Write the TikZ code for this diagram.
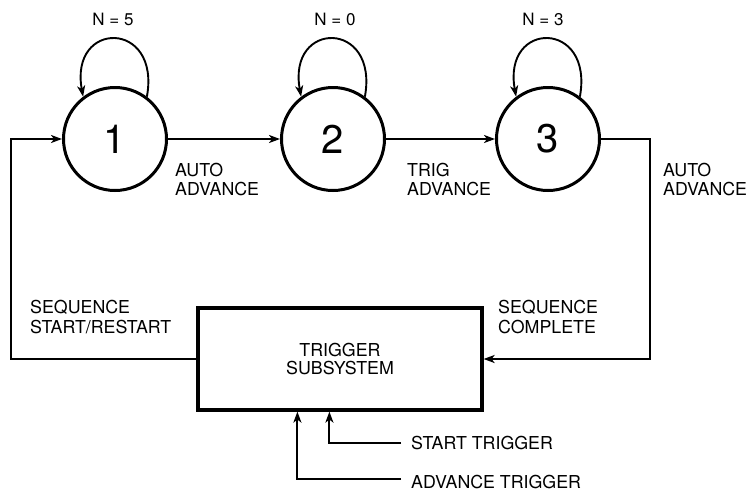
\documentclass[tikz,border=0pt]{standalone}
\usepackage{fontspec}
\setmainfont{TeX Gyre Heros}
\usetikzlibrary{arrows.meta,calc}
\begin{document}
\begin{tikzpicture}[x=1pt,y=-1pt,
  state/.style={circle,draw,line width=3pt,minimum size=103pt,inner sep=0pt,
    font=\fontsize{40}{40}\selectfont},
  conn/.style={line width=1.9pt,-{Stealth[length=11pt,width=8pt,inset=3pt]}},
  lbl/.style={inner sep=0pt,align=left,anchor=north west,
    font=\fontsize{17.8}{19}\selectfont},
  lbl2/.style={lbl,font=\fontsize{17.8}{20}\selectfont},
  nlbl/.style={inner sep=0pt,font=\fontsize{17}{17}\selectfont},
  sysbox/.style={draw,line width=3.2pt,minimum width=284pt,minimum height=102pt,
    inner sep=0pt,align=center,font=\fontsize{17.8}{17.5}\selectfont}]
\useasboundingbox (0,0) rectangle (753,491);

\node[state] (c1) at (115,139) {1};
\node[state] (c2) at (333,139) {2};
\node[state] (c3) at (548,139) {3};

\node[sysbox] (box) at (340,359) {TRIGGER\\SUBSYSTEM};

% self loops
\draw[conn] (c1.53) .. controls +(14,-77) and +(-14,-77) .. (c1.127);
\draw[conn] (c2.53) .. controls +(14,-77) and +(-14,-77) .. (c2.127);
\draw[conn] (c3.53) .. controls +(14,-77) and +(-14,-77) .. (c3.127);

\node[nlbl] (n5) at (113,19) {N = 5};
\node[nlbl] (n0) at (335,19) {N = 0};
\node[nlbl] (n3) at (543,19) {N = 3};

% transitions
\draw[conn] (c1) -- (c2);
\draw[conn] (c2) -- (c3);
\draw[conn] (c3.east) -- (650,139) |- (box.east);
\draw[conn] (box.west) -- ++(-185,0) |- (c1.west);

% trigger inputs
\coordinate (st) at (401,443);
\coordinate (at) at (401,479);
\draw[conn] (st) -| ($(box.south west)+(133,0)$);
\draw[conn] (at) -| ($(box.south west)+(101,0)$);

% labels
\node[lbl] (l12) at (175,163) {AUTO\\ADVANCE};
\node[lbl] (l23) at (407,163) {TRIG\\ADVANCE};
\node[lbl] (l3) at (663,163) {AUTO\\ADVANCE};
\node[lbl2] (lsr) at (30,300) {SEQUENCE\\START/RESTART};
\node[lbl2] (lsc) at (498,300) {SEQUENCE\\COMPLETE};
\node[lbl,anchor=west] (lst) at (411,443) {START TRIGGER};
\node[lbl,anchor=west] (lat) at (411,482) {ADVANCE TRIGGER};
\end{tikzpicture}
\end{document}
